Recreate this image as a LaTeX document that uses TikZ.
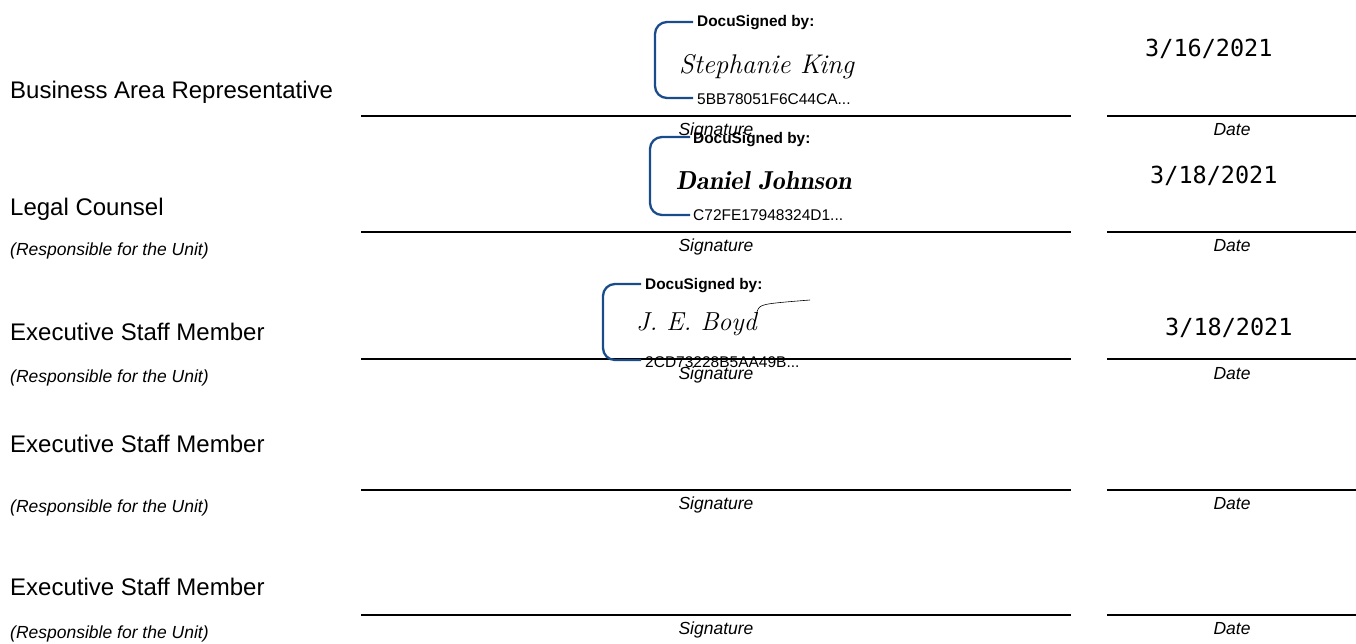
\documentclass[tikz,border=0pt]{standalone}
\usepackage{fontspec}
\setmainfont{Liberation Sans}
\newfontfamily\datefont{DejaVu Sans Mono}
\definecolor{dsblue}{RGB}{26,76,140}
\tikzset{
  role/.style={anchor=base west,inner sep=0pt,font=\fontsize{24}{28}\selectfont},
  unit/.style={anchor=base west,inner sep=0pt,font=\fontsize{17.5}{20}\selectfont\itshape},
  caption/.style={anchor=base,inner sep=0pt,font=\fontsize{17.5}{20}\selectfont\itshape},
  signdate/.style={anchor=base west,inner sep=0pt,font=\fontsize{23.5}{26}\selectfont\datefont},
  dshead/.style={anchor=base west,inner sep=0pt,font=\fontsize{15.4}{17}\selectfont\bfseries},
  dsid/.style={anchor=base west,inner sep=0pt,font=\fontsize{15.5}{17}\selectfont},
  hand/.style={anchor=base west,inner sep=0pt,font=\fontfamily{lmr}\fontsize{27}{30}\selectfont\itshape},
  rule/.style={line width=2pt},
  bracket/.style={draw=dsblue,line width=2.3pt,rounded corners=12pt},
}
\begin{document}
\begin{tikzpicture}[x=1pt,y=-1pt]
  \useasboundingbox (0,0) rectangle (1356,643);
  % roles
  \node[role] (bar) at (10,98) {Business Area Representative};
  \node[role] (legal) at (10,215) {Legal Counsel};
  \node[unit] (legalunit) at (10,255) {(Responsible for the Unit)};
  \node[role] (exec1) at (10,340) {Executive Staff Member};
  \node[unit] (exec1unit) at (10,382) {(Responsible for the Unit)};
  \node[role] (exec2) at (10,452) {Executive Staff Member};
  \node[unit] (exec2unit) at (10,512) {(Responsible for the Unit)};
  \node[role] (exec3) at (10,595) {Executive Staff Member};
  \node[unit] (exec3unit) at (10,638) {(Responsible for the Unit)};
  % signature and date lines
  \coordinate (s1a) at (361,116); \coordinate (s1b) at (1071,116);
  \coordinate (d1a) at (1107,116); \coordinate (d1b) at (1356,116);
  \coordinate (s2a) at (361,232); \coordinate (s2b) at (1071,232);
  \coordinate (d2a) at (1107,232); \coordinate (d2b) at (1356,232);
  \coordinate (s3a) at (361,359); \coordinate (s3b) at (1071,359);
  \coordinate (d3a) at (1107,359); \coordinate (d3b) at (1356,359);
  \coordinate (s4a) at (361,490); \coordinate (s4b) at (1071,490);
  \coordinate (d4a) at (1107,490); \coordinate (d4b) at (1356,490);
  \coordinate (s5a) at (361,615); \coordinate (s5b) at (1071,615);
  \coordinate (d5a) at (1107,615); \coordinate (d5b) at (1356,615);
  \draw[rule] (s1a) -- (s1b); \draw[rule] (d1a) -- (d1b);
  \draw[rule] (s2a) -- (s2b); \draw[rule] (d2a) -- (d2b);
  \draw[rule] (s3a) -- (s3b); \draw[rule] (d3a) -- (d3b);
  \draw[rule] (s4a) -- (s4b); \draw[rule] (d4a) -- (d4b);
  \draw[rule] (s5a) -- (s5b); \draw[rule] (d5a) -- (d5b);
  % captions
  \node[caption] (sig1) at (716,135) {Signature};
  \node[caption] (date1) at (1232,135) {Date};
  \node[caption] (sig2) at (716,251) {Signature};
  \node[caption] (date2) at (1232,251) {Date};
  \node[caption] (sig3) at (716,379) {Signature};
  \node[caption] (date3) at (1232,379) {Date};
  \node[caption] (sig4) at (716,509) {Signature};
  \node[caption] (date4) at (1232,509) {Date};
  \node[caption] (sig5) at (716,634) {Signature};
  \node[caption] (date5) at (1232,634) {Date};
  % signed dates
  \node[signdate] (when1) at (1145,56) {3/16/2021};
  \node[signdate] (when2) at (1150,183) {3/18/2021};
  \node[signdate] (when3) at (1165,335) {3/18/2021};
  % docusign stamps
  \node[dshead] (ds1head) at (697,26) {DocuSigned by:};
  \node[hand] (ds1name) at (679,73) {Stephanie King};
  \node[dsid] (ds1id) at (697,104) {5BB78051F6C44CA...};
  \coordinate (ds1a) at (693,22); \coordinate (ds1b) at (693,98);
  \draw[bracket] (ds1a) -- (655,22) -- (655,98) -- (ds1b);
  \node[dshead] (ds2head) at (693,143) {DocuSigned by:};
  \node[hand,font=\fontfamily{lmr}\fontsize{26}{30}\selectfont\bfseries\itshape] (ds2name) at (676,189) {Daniel Johnson};
  \node[dsid] (ds2id) at (693,220) {C72FE17948324D1...};
  \coordinate (ds2a) at (690,137); \coordinate (ds2b) at (690,215);
  \draw[bracket] (ds2a) -- (650,137) -- (650,215) -- (ds2b);
  \node[dshead] (ds3head) at (645,289) {DocuSigned by:};
  \node[hand,font=\fontfamily{lmr}\fontsize{26}{28}\selectfont\itshape] (ds3name) at (636,330) {J. E. Boyd};
  \draw[line width=.6pt] (ds3name.north east) .. controls (760,304) .. (810,300);
  \node[dsid] (ds3id) at (645,367) {2CD73228B5AA49B...};
  \coordinate (ds3a) at (641,284); \coordinate (ds3b) at (641,360);
  \draw[bracket] (ds3a) -- (603,284) -- (603,360) -- (ds3b);
\end{tikzpicture}
\end{document}
